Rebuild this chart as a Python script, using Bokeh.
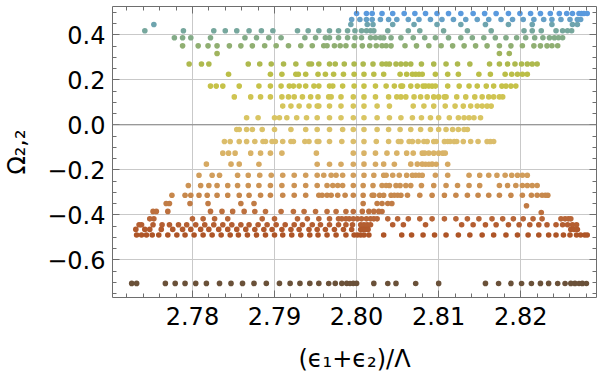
import numpy as np
from bokeh.plotting import figure
from bokeh.models import (ColumnDataSource, Range1d, LinearAxis, FixedTicker,
                          Span, CustomJSTickFormatter)
from bokeh.embed import file_html
from bokeh.resources import INLINE

# ---------------- data: Omega_{2,2} levels and (eps1+eps2)/Lambda values ----------------
omega_levels = [0.495, 0.468, 0.446, 0.418, 0.387, 0.351, 0.317, 0.270, 0.225, 0.172,
                0.124, 0.083, 0.031, -0.021, -0.074, -0.126, -0.175, -0.224, -0.270,
                -0.313, -0.350, -0.360, -0.385, -0.390, -0.418, -0.444, -0.465, -0.490,
                -0.705]

eps_01 = [2.8000, 2.8012, 2.8019, 2.8031, 2.8044, 2.8058, 2.8071, 2.8084, 2.8098, 2.8112,
          2.8127, 2.8142, 2.8156, 2.8170, 2.8185, 2.8199, 2.8212, 2.8224, 2.8236, 2.8247,
          2.8256, 2.8263, 2.8271, 2.8274, 2.8277, 2.8281]
eps_02 = [2.7994, 2.8004, 2.8012, 2.8019, 2.8029, 2.8039, 2.8049, 2.8063, 2.8076, 2.8090,
          2.8104, 2.8118, 2.8133, 2.8147, 2.8161, 2.8176, 2.8190, 2.8203, 2.8216, 2.8228,
          2.8238, 2.8249, 2.8260, 2.8269, 2.8273]
eps_03 = [2.7753, 2.7993, 2.8013, 2.8020, 2.8044, 2.8070, 2.8098, 2.8127, 2.8157, 2.8185,
          2.8214, 2.8238, 2.8263, 2.8269]
eps_04 = [2.7742, 2.7789, 2.7826, 2.7840, 2.7854, 2.7869, 2.7884, 2.7898, 2.7928, 2.7941,
          2.7954, 2.7967, 2.7978, 2.7989, 2.7998, 2.8006, 2.8012, 2.8017, 2.8021, 2.8038,
          2.8063, 2.8077, 2.8106, 2.8135, 2.8164, 2.8204, 2.8214, 2.8225, 2.8243, 2.8251,
          2.8257, 2.8262]
eps_05 = [2.7778, 2.7788, 2.7798, 2.7822, 2.7864, 2.7878, 2.7893, 2.7908, 2.7937, 2.7950,
          2.7962, 2.7967, 2.7978, 2.7989, 2.7998, 2.8006, 2.8017, 2.8023, 2.8029, 2.8033,
          2.8042, 2.8054, 2.8069, 2.8083, 2.8096, 2.8112, 2.8127, 2.8141, 2.8155, 2.8169,
          2.8182, 2.8195, 2.8206, 2.8217, 2.8227, 2.8235, 2.8241, 2.8246, 2.8251]
eps_06 = [2.7788, 2.7807, 2.7819, 2.7830, 2.7845, 2.7859, 2.7873, 2.7888, 2.7902, 2.7917,
          2.7932, 2.7946, 2.7960, 2.7964, 2.7973, 2.7980, 2.7987, 2.7997, 2.8007, 2.8016,
          2.8024, 2.8031, 2.8036, 2.8042, 2.8059, 2.8073, 2.8088, 2.8103, 2.8117, 2.8131,
          2.8145, 2.8159, 2.8174, 2.8188, 2.8202, 2.8216, 2.8224, 2.8232, 2.8238, 2.8245]
eps_07 = [2.7830, 2.8174, 2.8186]
eps_08 = [2.7796, 2.7811, 2.7820, 2.7868, 2.7882, 2.7896, 2.7911, 2.7926, 2.7942, 2.7945,
          2.7954, 2.7967, 2.7974, 2.7985, 2.7997, 2.8008, 2.8020, 2.8031, 2.8036, 2.8040,
          2.8048, 2.8054, 2.8060, 2.8066, 2.8079, 2.8094, 2.8109, 2.8123, 2.8138, 2.8162,
          2.8174, 2.8184, 2.8193, 2.8201, 2.8208, 2.8214, 2.8220]
eps_09 = [2.7844, 2.7895, 2.7909, 2.7926, 2.7929, 2.7938, 2.7953, 2.7962, 2.7972, 2.7984,
          2.7997, 2.8009, 2.8021, 2.8033, 2.8053, 2.8061, 2.8068, 2.8072, 2.8076, 2.8080,
          2.8096, 2.8111, 2.8124, 2.8149, 2.8163, 2.8181, 2.8189, 2.8196, 2.8202, 2.8208]
eps_10 = [2.7822, 2.7829, 2.7837, 2.7857, 2.7881, 2.7895, 2.7908, 2.7918, 2.7923, 2.7930,
          2.7938, 2.7948, 2.7954, 2.7967, 2.7971, 2.7983, 2.7997, 2.8009, 2.8023, 2.8036,
          2.8046, 2.8054, 2.8056, 2.8066, 2.8074, 2.8081, 2.8084, 2.8088, 2.8092, 2.8096,
          2.8111, 2.8125, 2.8137, 2.8147, 2.8158, 2.8167, 2.8177, 2.8182, 2.8188, 2.8194]
eps_11 = [2.7851, 2.7871, 2.7883, 2.7895, 2.7909, 2.7917, 2.7924, 2.7934, 2.7944, 2.7953,
          2.7966, 2.7969, 2.7981, 2.7996, 2.8009, 2.8023, 2.8039, 2.8049, 2.8054, 2.8060,
          2.8070, 2.8078, 2.8086, 2.8094, 2.8100, 2.8107, 2.8109, 2.8122, 2.8133, 2.8144,
          2.8153, 2.8161, 2.8167, 2.8174, 2.8178]
eps_12 = [2.7910, 2.7920, 2.7930, 2.7942, 2.7952, 2.7954, 2.7967, 2.7981, 2.7996, 2.8009,
          2.8025, 2.8040, 2.8069, 2.8082, 2.8094, 2.8108, 2.8120, 2.8130, 2.8139, 2.8147,
          2.8153, 2.8159, 2.8164]
eps_13 = [2.7866, 2.7880, 2.7900, 2.7906, 2.7915, 2.7927, 2.7939, 2.7952, 2.7967, 2.7981,
          2.7996, 2.8009, 2.8025, 2.8040, 2.8054, 2.8068, 2.8079, 2.8090, 2.8100, 2.8113,
          2.8124, 2.8131, 2.8137, 2.8143, 2.8151]
eps_14 = [2.7854, 2.7857, 2.7866, 2.7873, 2.7885, 2.7900, 2.7920, 2.7938, 2.7952, 2.7967,
          2.7983, 2.7996, 2.8009, 2.8025, 2.8039, 2.8053, 2.8066, 2.8078, 2.8090, 2.8100,
          2.8109, 2.8117, 2.8124, 2.8131, 2.8135]
eps_15 = [2.7839, 2.7846, 2.7857, 2.7866, 2.7876, 2.7886, 2.7889, 2.7897, 2.7901, 2.7910,
          2.7920, 2.7923, 2.7937, 2.7942, 2.7952, 2.7954, 2.7967, 2.7982, 2.7996, 2.8009,
          2.8024, 2.8039, 2.8051, 2.8054, 2.8064, 2.8068, 2.8075, 2.8082, 2.8086, 2.8094,
          2.8097, 2.8107, 2.8111, 2.8114, 2.8119, 2.8122, 2.8130, 2.8139, 2.8148, 2.8159,
          2.8163, 2.8167]
eps_16 = [2.7837, 2.7844, 2.7852, 2.7871, 2.7883, 2.7895, 2.7909, 2.7951, 2.7996, 2.8009,
          2.8023, 2.8037, 2.8049, 2.8061, 2.8069, 2.8080, 2.8083, 2.8088, 2.8094, 2.8100,
          2.8105, 2.8108]
eps_17 = [2.7817, 2.7847, 2.7857, 2.7881, 2.7952, 2.7967, 2.7981, 2.7996, 2.8009, 2.8023,
          2.8033, 2.8046, 2.8066, 2.8074, 2.8080, 2.8084, 2.8088, 2.8092, 2.8097, 2.8111]
eps_18 = [2.7808, 2.7824, 2.7833, 2.7855, 2.7868, 2.7882, 2.7896, 2.7910, 2.7924, 2.7938,
          2.7952, 2.7960, 2.7969, 2.7975, 2.7983, 2.7996, 2.8009, 2.8021, 2.8033, 2.8036,
          2.8044, 2.8052, 2.8061, 2.8068, 2.8072, 2.8076, 2.8080, 2.8096, 2.8111, 2.8137,
          2.8150, 2.8161, 2.8171, 2.8181, 2.8189, 2.8196, 2.8202, 2.8208]
eps_19 = [2.7795, 2.7810, 2.7820, 2.7830, 2.7843, 2.7855, 2.7868, 2.7881, 2.7895, 2.7909,
          2.7924, 2.7938, 2.7952, 2.7964, 2.7971, 2.7977, 2.7983, 2.7996, 2.8008, 2.8020,
          2.8031, 2.8036, 2.8040, 2.8048, 2.8053, 2.8060, 2.8066, 2.8079, 2.8094, 2.8109,
          2.8123, 2.8137, 2.8150, 2.8174, 2.8184, 2.8194, 2.8202, 2.8208, 2.8214, 2.8220]
eps_20 = [2.7775, 2.7791, 2.7798, 2.7808, 2.7818, 2.7830, 2.7843, 2.7857, 2.7869, 2.7883,
          2.7895, 2.7910, 2.7924, 2.7938, 2.7954, 2.7958, 2.7964, 2.7969, 2.7977, 2.7986,
          2.7996, 2.8008, 2.8019, 2.8021, 2.8028, 2.8033, 2.8042, 2.8046, 2.8050, 2.8054,
          2.8062, 2.8077, 2.8092, 2.8107, 2.8121, 2.8135, 2.8148, 2.8161, 2.8174, 2.8188,
          2.8202, 2.8213, 2.8220, 2.8226, 2.8230, 2.8233]
eps_21 = [2.7768, 2.7772, 2.7797, 2.7819, 2.7859, 2.7875, 2.8008, 2.8025, 2.8031, 2.8038,
          2.8043]
eps_22 = [2.8207]
eps_23 = [2.7752, 2.7756, 2.7770, 2.7822, 2.7836, 2.7849, 2.7863, 2.7876, 2.7889, 2.7908,
          2.7923, 2.7936, 2.7950, 2.7964, 2.7975, 2.7987, 2.7996, 2.8007, 2.8015, 2.8021,
          2.8027, 2.8031]
eps_24 = [2.8225]
eps_25 = [2.7748, 2.7753, 2.7800, 2.7813, 2.7827, 2.7843, 2.7885, 2.7900, 2.7928, 2.7940,
          2.7954, 2.7967, 2.7978, 2.7982, 2.7987, 2.7991, 2.7996, 2.8001, 2.8006, 2.8012,
          2.8017, 2.8021, 2.8025, 2.8038, 2.8050, 2.8063, 2.8077, 2.8092, 2.8107, 2.8121,
          2.8135, 2.8149, 2.8165, 2.8178, 2.8191, 2.8203, 2.8215, 2.8226, 2.8249, 2.8254,
          2.8258, 2.8261]
eps_26 = [2.7735, 2.7738, 2.7752, 2.7763, 2.7772, 2.7783, 2.7793, 2.7804, 2.7815, 2.7826,
          2.7837, 2.7848, 2.7859, 2.7869, 2.7880, 2.7891, 2.7902, 2.7913, 2.7924, 2.7934,
          2.7946, 2.7956, 2.7967, 2.7978, 2.7987, 2.7995, 2.8005, 2.8009, 2.8013, 2.8017,
          2.8044, 2.8057, 2.8084, 2.8128, 2.8142, 2.8157, 2.8170, 2.8185, 2.8198, 2.8211,
          2.8222, 2.8232, 2.8243, 2.8251, 2.8257, 2.8263, 2.8268]
eps_27 = [2.7731, 2.7742, 2.7748, 2.7762, 2.7776, 2.7788, 2.7798, 2.7810, 2.7820, 2.7832,
          2.7843, 2.7854, 2.7865, 2.7876, 2.7887, 2.7897, 2.7909, 2.7920, 2.7930, 2.7942,
          2.7952, 2.7962, 2.7973, 2.7984, 2.7994, 2.8005, 2.8008, 2.8011, 2.8014, 2.8261,
          2.8265, 2.8269]
eps_28 = [2.7732, 2.7738, 2.7744, 2.7751, 2.7759, 2.7770, 2.7781, 2.7791, 2.7802, 2.7813,
          2.7824, 2.7835, 2.7846, 2.7856, 2.7867, 2.7878, 2.7889, 2.7900, 2.7910, 2.7921,
          2.7932, 2.7943, 2.7953, 2.7964, 2.7975, 2.7987, 2.7997, 2.8001, 2.8005, 2.8009,
          2.8015, 2.8033, 2.8055, 2.8067, 2.8081, 2.8095, 2.8109, 2.8124, 2.8138, 2.8153,
          2.8167, 2.8182, 2.8196, 2.8209, 2.8222, 2.8234, 2.8243, 2.8252, 2.8260, 2.8268,
          2.8273, 2.8278, 2.8281]
eps_29 = [2.7726, 2.7732, 2.7767, 2.7779, 2.7791, 2.7804, 2.7817, 2.7833, 2.7847, 2.7861,
          2.7875, 2.7890, 2.7906, 2.7919, 2.7931, 2.7943, 2.7954, 2.7966, 2.7974, 2.7982,
          2.7988, 2.7992, 2.7996, 2.8000, 2.8021, 2.8038, 2.8048, 2.8072, 2.8100, 2.8157,
          2.8173, 2.8188, 2.8201, 2.8213, 2.8224, 2.8234, 2.8245, 2.8254, 2.8261, 2.8266,
          2.8271, 2.8275, 2.8280]

eps_rows = [eps_01, eps_02, eps_03, eps_04, eps_05, eps_06, eps_07, eps_08, eps_09, eps_10,
            eps_11, eps_12, eps_13, eps_14, eps_15, eps_16, eps_17, eps_18, eps_19, eps_20,
            eps_21, eps_22, eps_23, eps_24, eps_25, eps_26, eps_27, eps_28, eps_29]

x_tick_values = [2.78, 2.79, 2.80, 2.81, 2.82]
y_tick_values = [-0.6, -0.4, -0.2, 0.0, 0.2, 0.4]

# ---------------- style ----------------
row_colors = ["#5a9ade", "#66a0c6", "#6ea4ae", "#77a79d", "#83ab87", "#90af72", "#a0b45e",
              "#aeb94e", "#bbbe47", "#c6c249", "#cfc452", "#d5c55b", "#d9c563", "#dbc269",
              "#dbbd6b", "#d9b367", "#d6a962", "#d19e5c", "#cc9354", "#c7884c", "#c17c45",
              "#c07a44", "#bc703e", "#bc6f3d", "#b86638", "#b45e31", "#b1592c", "#ae5527",
              "#6a5139"]

xs, ys, cs = [], [], []
for lvl, row, col in zip(omega_levels, eps_rows, row_colors):
    xs.extend(row)
    ys.extend([lvl] * len(row))
    cs.extend([col] * len(row))
src = ColumnDataSource(dict(x=xs, y=ys, c=cs))

FONT = "DejaVu Sans"
FRAME = "#6e6e6e"

p = figure(frame_width=484, frame_height=291,
           min_border_left=110, min_border_right=3, min_border_top=6, min_border_bottom=84,
           x_range=Range1d(2.77026, 2.82923), y_range=Range1d(-0.7676, 0.5258),
           output_backend="svg", toolbar_location=None)
p.outline_line_color = None
p.background_fill_color = "white"
p.border_fill_color = "white"

bottom_ax = p.below[0]
left_ax = p.left[0]
right_ax = LinearAxis()
top_ax = LinearAxis()
p.add_layout(right_ax, "right")
p.add_layout(top_ax, "above")

x_minor = [round(v, 4) for v in np.arange(2.772, 2.8290, 0.002)]
y_minor = [round(v, 3) for v in np.arange(-0.75, 0.5001, 0.05)]

for ax, ticks, minor in [(bottom_ax, x_tick_values, x_minor), (top_ax, x_tick_values, x_minor),
                         (left_ax, y_tick_values, y_minor), (right_ax, y_tick_values, y_minor)]:
    ax.ticker = FixedTicker(ticks=ticks, minor_ticks=minor)
    ax.axis_line_color = FRAME
    ax.axis_line_width = 1
    ax.major_tick_in = 7
    ax.major_tick_out = 0
    ax.minor_tick_in = 4
    ax.minor_tick_out = 0
    ax.major_tick_line_color = FRAME
    ax.minor_tick_line_color = FRAME
    ax.major_label_text_font = FONT
    ax.major_label_text_font_size = "24px"
    ax.major_label_text_color = "black"

for ax in (right_ax, top_ax):
    ax.formatter = CustomJSTickFormatter(code="return '';")
    ax.major_label_standoff = 0

bottom_ax.formatter = CustomJSTickFormatter(code="return tick.toFixed(2);")
left_ax.formatter = CustomJSTickFormatter(
    code="return (tick < -1e-9 ? '\u2212' : '') + Math.abs(tick).toFixed(1);")
bottom_ax.major_label_standoff = 9
left_ax.major_label_standoff = 7

bottom_ax.axis_label = "(\u03f5\u2081+\u03f5\u2082)/\u039b"
left_ax.axis_label = "\u03a9\u2082,\u2082"
for ax in (bottom_ax, left_ax):
    ax.axis_label_text_font = FONT
    ax.axis_label_text_font_size = "24px"
    ax.axis_label_text_font_style = "normal"
    ax.axis_label_text_color = "black"
bottom_ax.axis_label_standoff = 17
left_ax.axis_label_standoff = 13

p.xgrid.ticker = FixedTicker(ticks=x_tick_values)
p.ygrid.ticker = FixedTicker(ticks=y_tick_values)
p.xgrid.grid_line_color = "#c9c9c9"
p.ygrid.grid_line_color = "#c9c9c9"
p.xgrid.grid_line_width = 1
p.ygrid.grid_line_width = 1

p.add_layout(Span(location=0, dimension="width", line_color="#858585", line_width=1))

p.scatter("x", "y", source=src, size=5.6, fill_color="c", line_color=None)

open("out.html", "w").write(file_html(p, INLINE))
